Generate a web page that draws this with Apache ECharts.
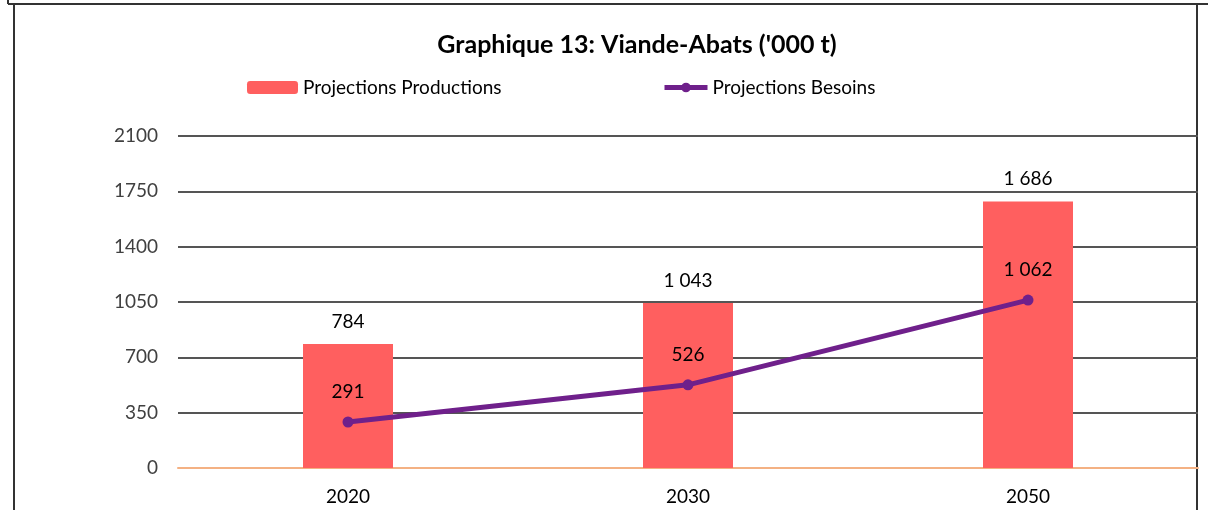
<!DOCTYPE html>
<html>
<head>
<meta charset="utf-8">
<script src="https://cdn.jsdelivr.net/npm/echarts@6/dist/echarts.min.js"></script>
<style>
  html, body { margin: 0; padding: 0; background: #fff; }
  #chart { width: 1208px; height: 510px; }
</style>
</head>
<body>
<div id="chart"></div>
<script>
// 数据
const years = ['2020', '2030', '2050'];
const productions = [784, 1043, 1686];
const besoins = [291, 526, 1062];
const yTicks = [0, 350, 700, 1050, 1400, 1750, 2100];

const FONT = 'Lato, "Noto Sans", sans-serif';

// 千位分隔用空格，例如 1 043
function fmt(v) {
    return String(v).replace(/\B(?=(\d{3})+(?!\d))/g, ' ');
}

const chart = echarts.init(document.getElementById('chart'));

chart.setOption({
    animation: false,
    textStyle: { fontFamily: FONT },
    title: {
        text: "Graphique 13: Viande-Abats ('000 t)",
        left: 632,
        textAlign: 'center',
        top: 27,
        textStyle: { fontFamily: FONT, fontSize: 25, fontWeight: 'bold', color: '#000' }
    },
    legend: [
        {
            data: ['Projections Productions'],
            left: 247, top: 78, padding: 0,
            itemWidth: 51, itemHeight: 13, itemGap: 6,
            textStyle: { fontFamily: FONT, fontSize: 19, color: '#000' }
        },
        {
            data: ['Projections Besoins'],
            left: 662, top: 78, padding: 0,
            itemWidth: 43, itemHeight: 12,
            lineStyle: { width: 5 },
            textStyle: { fontFamily: FONT, fontSize: 19, color: '#000' }
        }
    ],
    grid: { left: 178, right: 10, top: 136, bottom: 42 },
    xAxis: {
        type: 'category',
        data: years,
        axisTick: { show: false },
        axisLine: { lineStyle: { color: '#f4b183', width: 2 } },
        axisLabel: { fontFamily: FONT, fontSize: 19, color: '#000', margin: 19 }
    },
    yAxis: {
        type: 'value',
        min: yTicks[0],
        max: yTicks[yTicks.length - 1],
        interval: 350,
        axisLine: { show: false },
        axisTick: { show: false },
        axisLabel: {
            fontFamily: FONT, fontSize: 19, color: '#404040', margin: 20,
            formatter: v => String(v)
        },
        splitLine: { lineStyle: { color: '#555', width: 2 } }
    },
    series: [
        {
            name: 'Projections Productions',
            type: 'bar',
            data: productions,
            barWidth: 90,
            itemStyle: { color: '#ff5f5f' },
            label: {
                show: true, position: 'top', distance: 13,
                fontFamily: FONT, fontSize: 19, color: '#000',
                formatter: p => fmt(p.value)
            }
        },
        {
            name: 'Projections Besoins',
            type: 'line',
            data: besoins,
            symbol: 'circle',
            symbolSize: 11,
            lineStyle: { color: '#6f208b', width: 5 },
            itemStyle: { color: '#6f208b' },
            label: {
                show: true, position: 'top', distance: 15,
                fontFamily: FONT, fontSize: 19, color: '#000',
                formatter: p => fmt(p.value)
            },
            z: 3
        }
    ],
    graphic: [
        { type: 'line', shape: { x1: 8, y1: 4, x2: 1208, y2: 4 }, style: { stroke: '#333', lineWidth: 2 } },
        { type: 'line', shape: { x1: 8, y1: 0, x2: 8, y2: 4 }, style: { stroke: '#333', lineWidth: 2 } },
        { type: 'line', shape: { x1: 14, y1: 4, x2: 14, y2: 510 }, style: { stroke: '#333', lineWidth: 2 } },
        { type: 'line', shape: { x1: 1197, y1: 4, x2: 1197, y2: 510 }, style: { stroke: '#333', lineWidth: 2 } }
    ]
});
</script>
</body>
</html>
